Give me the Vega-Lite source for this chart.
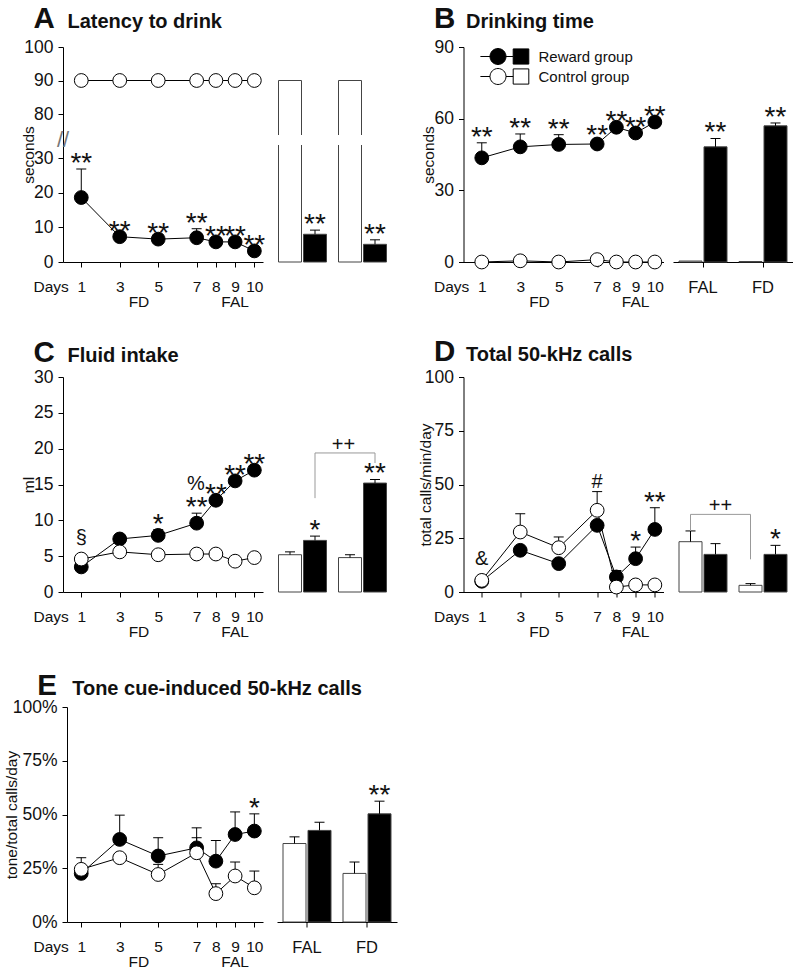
{
  "$schema": "https://vega.github.io/schema/vega-lite/v6.json",
  "background": "white",
  "padding": {"left": 4, "top": 3, "right": 0, "bottom": 0},
  "columns": 5,
  "bounds": "flush",
  "spacing": {"row": 115, "column": 9.5},
  "resolve": {
    "scale": {"x": "independent", "y": "independent", "xOffset": "independent", "fill": "independent"},
    "axis": {"x": "independent", "y": "independent"},
    "legend": {"fill": "independent"}
  },
  "config": {
    "font": "Liberation Sans",
    "view": {"stroke": null},
    "axis": {
      "grid": false, "domainColor": "black", "tickColor": "black", "labelColor": "#111", "titleColor": "#111",
      "labelFontSize": 17.5, "titleFontSize": 15.5, "titleFontWeight": "normal", "tickSize": 5,
      "labelFlush": false, "labelOverlap": false
    },
    "axisY": {"labelPadding": 5},
    "text": {"color": "#111"}
  },
  "concat": [
    {
      "width": 200, "height": 215,
      "data": {"values": [
        {"day": 1, "phase": "FD", "group": "Reward group", "mean": 18.6, "hi": 26.8, "sig": "**"},
        {"day": 3, "phase": "FD", "group": "Reward group", "mean": 7.3, "hi": 7.3, "sig": "**"},
        {"day": 5, "phase": "FD", "group": "Reward group", "mean": 6.6, "hi": 6.6, "sig": "**"},
        {"day": 7, "phase": "FD", "group": "Reward group", "mean": 7.0, "hi": 9.6, "sig": "**"},
        {"day": 8, "phase": "FAL", "group": "Reward group", "mean": 5.8, "hi": 5.8, "sig": "**"},
        {"day": 9, "phase": "FAL", "group": "Reward group", "mean": 5.8, "hi": 5.8, "sig": "**"},
        {"day": 10, "phase": "FAL", "group": "Reward group", "mean": 3.2, "hi": 3.2, "sig": "**"},
        {"day": 1, "phase": "FD", "group": "Control group", "mean": 90, "hi": 90},
        {"day": 3, "phase": "FD", "group": "Control group", "mean": 90, "hi": 90},
        {"day": 5, "phase": "FD", "group": "Control group", "mean": 90, "hi": 90},
        {"day": 7, "phase": "FD", "group": "Control group", "mean": 90, "hi": 90},
        {"day": 8, "phase": "FAL", "group": "Control group", "mean": 90, "hi": 90},
        {"day": 9, "phase": "FAL", "group": "Control group", "mean": 90, "hi": 90},
        {"day": 10, "phase": "FAL", "group": "Control group", "mean": 90, "hi": 90}
      ]},
      "resolve": {"axis": {"x": "independent", "y": "independent"}},
      "layer": [
        {
          "encoding": {
            "x": {"field": "day", "type": "quantitative", "scale": {"domain": [0.05, 10.45], "nice": false, "zero": false},
              "axis": {"values": [1, 3, 5, 7, 8, 9, 10], "title": "Days", "titleX": -30, "titleY": 29, "titleAlign": "left", "titleBaseline": "alphabetic", "labelFontSize": 15.5, "labelPadding": 12}},
            "y": {"field": "mean", "type": "quantitative", "scale": {"domain": [0, 30, 80, 100], "range": [215, 111, 67, 0], "nice": false, "zero": false},
              "axis": {"values": [0, 10, 20, 30, 80, 90, 100], "title": "seconds", "titleX": -30, "titleY": 107.5, "titleAlign": "center", "titleBaseline": "alphabetic"}}
          },
          "layer": [
            {"transform": [{"filter": "datum.hi > datum.mean"}], "mark": {"type": "rule", "color": "black", "strokeWidth": 1}, "encoding": {"y2": {"field": "hi"}}},
            {"transform": [{"filter": "datum.hi > datum.mean"}], "mark": {"type": "tick", "orient": "horizontal", "size": 10, "thickness": 1, "color": "black", "opacity": 1}, "encoding": {"y": {"field": "hi", "type": "quantitative"}}},
            {"mark": {"type": "line", "color": "black", "strokeWidth": 1}, "encoding": {"detail": {"field": "group"}}},
            {"mark": {"type": "point", "filled": true, "size": 190, "stroke": "black", "strokeWidth": 1, "opacity": 1},
              "encoding": {"fill": {"field": "group", "type": "nominal", "scale": {"domain": ["Reward group", "Control group"], "range": ["black", "white"]}, "legend": null}}},
            {"transform": [{"filter": "datum.sig"}], "mark": {"type": "text", "fontSize": 28, "baseline": "alphabetic", "dy": 3}, "encoding": {"y": {"field": "hi", "type": "quantitative"}, "text": {"field": "sig"}}}
          ]
        },
        {
          "mark": {"type": "text", "fontSize": 15.5, "baseline": "alphabetic", "dy": 45},
          "encoding": {
            "x": {"aggregate": "mean", "field": "day", "type": "quantitative",
              "axis": {"orient": "top", "domain": false, "ticks": false, "labels": false, "title": "Latency to drink", "titleX": 4, "titleY": -20, "titleAlign": "left", "titleBaseline": "alphabetic", "titleFontSize": 20, "titleFontWeight": "bold"}},
            "y": {"datum": 0, "type": "quantitative",
              "axis": {"orient": "left", "domain": false, "ticks": false, "labels": false, "title": "A", "titleX": -30, "titleY": -20, "titleAngle": 0, "titleAlign": "left", "titleBaseline": "alphabetic", "titleFontSize": 29.5, "titleFontWeight": "bold"}},
            "text": {"field": "phase", "type": "nominal"}
          }
        },
        {
          "data": {"values": [{"brk": "//"}]},
          "mark": {"type": "text", "fontSize": 22, "color": "#777"},
          "encoding": {"x": {"datum": 0.05, "type": "quantitative", "axis": null}, "y": {"datum": 50, "type": "quantitative", "axis": null}, "text": {"field": "brk"}}
        }
      ]
    },
    {
      "width": 120, "height": 215,
      "data": {"values": [
        {"grp": "FAL", "group": "Control group", "mean": 90, "hi": 90},
        {"grp": "FAL", "group": "Reward group", "mean": 8.0, "hi": 9.2, "sig": "**"},
        {"grp": "FD", "group": "Control group", "mean": 90, "hi": 90},
        {"grp": "FD", "group": "Reward group", "mean": 5.1, "hi": 6.4, "sig": "**"}
      ]},
      "layer": [
        {
          "encoding": {
            "x": {"field": "grp", "type": "nominal", "scale": {"domain": ["FAL", "FD"], "paddingInner": 0, "paddingOuter": 0},
              "axis": {"title": null, "labelFontSize": 16.5, "labelPadding": 12, "labelAngle": 0, "bandPosition": 0.5}},
            "y": {"field": "mean", "type": "quantitative", "scale": {"domain": [0, 30, 80, 100], "range": [215, 111, 67, 0], "nice": false, "zero": false}, "axis": null},
            "xOffset": {"field": "group", "type": "nominal", "scale": {"domain": ["Control group", "Reward group"], "paddingInner": 0.08, "paddingOuter": 0.24}}
          },
          "layer": [
            {"mark": {"type": "bar", "stroke": "#444", "strokeWidth": 1},
              "encoding": {"fill": {"field": "group", "type": "nominal", "scale": {"domain": ["Reward group", "Control group"], "range": ["black", "white"]}, "legend": null}}},
            {"transform": [{"filter": "datum.hi > datum.mean"}], "mark": {"type": "rule", "color": "black"}, "encoding": {"y2": {"field": "hi"}}},
            {"transform": [{"filter": "datum.hi > datum.mean"}], "mark": {"type": "tick", "orient": "horizontal", "size": 10, "thickness": 1, "color": "black", "opacity": 1}, "encoding": {"y": {"field": "hi", "type": "quantitative", "axis": null}}},
            {"transform": [{"filter": "datum.sig"}], "mark": {"type": "text", "fontSize": 28, "baseline": "alphabetic", "dy": 3}, "encoding": {"y": {"field": "hi", "type": "quantitative", "axis": null}, "text": {"field": "sig"}}}
          ]
        },
        {
          "data": {"values": [{"grp": "FAL", "group": "Control group"}, {"grp": "FD", "group": "Control group"}]},
          "mark": {"type": "bar", "fill": "white", "stroke": "white", "strokeWidth": 2},
          "encoding": {"x": {"field": "grp", "type": "nominal", "axis": null}, "xOffset": {"field": "group", "type": "nominal"}, "y": {"datum": 46, "type": "quantitative", "axis": null}, "y2": {"datum": 55}}
        }
      ]
    },
    {"width": 52, "height": 215, "data": {"values": [{}]}, "mark": {"type": "text", "text": ""}},
    {
      "width": 200, "height": 215,
      "data": {"values": [
        {"day": 1, "phase": "FD", "group": "Reward group", "mean": 43.6, "hi": 49.9, "sig": "**"},
        {"day": 3, "phase": "FD", "group": "Reward group", "mean": 48.2, "hi": 53.6, "sig": "**"},
        {"day": 5, "phase": "FD", "group": "Reward group", "mean": 49.2, "hi": 53.3, "sig": "**"},
        {"day": 7, "phase": "FD", "group": "Reward group", "mean": 49.4, "hi": 50.5, "sig": "**"},
        {"day": 8, "phase": "FAL", "group": "Reward group", "mean": 56.4, "hi": 56.4, "sig": "**"},
        {"day": 9, "phase": "FAL", "group": "Reward group", "mean": 54.0, "hi": 54.0, "sig": "**"},
        {"day": 10, "phase": "FAL", "group": "Reward group", "mean": 58.6, "hi": 58.6, "sig": "**"},
        {"day": 1, "phase": "FD", "group": "Control group", "mean": 0, "hi": 0},
        {"day": 3, "phase": "FD", "group": "Control group", "mean": 0.5, "hi": 0.5},
        {"day": 5, "phase": "FD", "group": "Control group", "mean": 0, "hi": 0},
        {"day": 7, "phase": "FD", "group": "Control group", "mean": 1.0, "hi": 1.0},
        {"day": 8, "phase": "FAL", "group": "Control group", "mean": 0, "hi": 0},
        {"day": 9, "phase": "FAL", "group": "Control group", "mean": 0, "hi": 0},
        {"day": 10, "phase": "FAL", "group": "Control group", "mean": 0, "hi": 0}
      ]},
      "resolve": {"axis": {"x": "independent", "y": "independent"}},
      "layer": [
        {
          "encoding": {
            "x": {"field": "day", "type": "quantitative", "scale": {"domain": [0.05, 10.45], "nice": false, "zero": false},
              "axis": {"values": [1, 3, 5, 7, 8, 9, 10], "title": "Days", "titleX": -30, "titleY": 29, "titleAlign": "left", "titleBaseline": "alphabetic", "labelFontSize": 15.5, "labelPadding": 12}},
            "y": {"field": "mean", "type": "quantitative", "scale": {"domain": [0, 90], "nice": false, "zero": false},
              "axis": {"values": [0, 30, 60, 90], "title": "seconds", "titleX": -30, "titleY": 107.5, "titleAlign": "center", "titleBaseline": "alphabetic"}}
          },
          "layer": [
            {"transform": [{"filter": "datum.hi > datum.mean"}], "mark": {"type": "rule", "color": "black", "strokeWidth": 1}, "encoding": {"y2": {"field": "hi"}}},
            {"transform": [{"filter": "datum.hi > datum.mean"}], "mark": {"type": "tick", "orient": "horizontal", "size": 10, "thickness": 1, "color": "black", "opacity": 1}, "encoding": {"y": {"field": "hi", "type": "quantitative"}}},
            {"mark": {"type": "line", "color": "black", "strokeWidth": 1}, "encoding": {"detail": {"field": "group"}}},
            {"mark": {"type": "point", "filled": true, "size": 190, "stroke": "black", "strokeWidth": 1, "opacity": 1},
              "encoding": {"fill": {"field": "group", "type": "nominal", "scale": {"domain": ["Reward group", "Control group"], "range": ["black", "white"]},
                "legend": {"orient": "none", "legendX": 26, "legendY": 1, "title": null,
                  "symbolType": "M-2.2,0L-1,0M-1,0A1,1,0,1,1,1,0A1,1,0,1,1,-1,0ZM1,0L1.9,0M1.9,-0.95L3.85,-0.95L3.85,0.95L1.9,0.95Z",
                  "symbolSize": 256, "symbolStrokeColor": "black", "symbolStrokeWidth": 1, "labelFontSize": 15, "labelOffset": 32, "rowPadding": -1, "labelColor": "#111"}}}},
            {"transform": [{"filter": "datum.sig"}], "mark": {"type": "text", "fontSize": 28, "baseline": "alphabetic", "dy": 3}, "encoding": {"y": {"field": "hi", "type": "quantitative"}, "text": {"field": "sig"}}}
          ]
        },
        {
          "mark": {"type": "text", "fontSize": 15.5, "baseline": "alphabetic", "dy": 45},
          "encoding": {
            "x": {"aggregate": "mean", "field": "day", "type": "quantitative",
              "axis": {"orient": "top", "domain": false, "ticks": false, "labels": false, "title": "Drinking time", "titleX": 2, "titleY": -20, "titleAlign": "left", "titleBaseline": "alphabetic", "titleFontSize": 20, "titleFontWeight": "bold"}},
            "y": {"datum": 0, "type": "quantitative",
              "axis": {"orient": "left", "domain": false, "ticks": false, "labels": false, "title": "B", "titleX": -30, "titleY": -20, "titleAngle": 0, "titleAlign": "left", "titleBaseline": "alphabetic", "titleFontSize": 29.5, "titleFontWeight": "bold"}},
            "text": {"field": "phase", "type": "nominal"}
          }
        }
      ]
    },
    {
      "width": 120, "height": 215,
      "data": {"values": [
        {"grp": "FAL", "group": "Control group", "mean": 0.4, "hi": 0.4},
        {"grp": "FAL", "group": "Reward group", "mean": 48.2, "hi": 51.7, "sig": "**"},
        {"grp": "FD", "group": "Control group", "mean": 0.2, "hi": 0.2},
        {"grp": "FD", "group": "Reward group", "mean": 57.0, "hi": 58.2, "sig": "**"}
      ]},
      "encoding": {
        "x": {"field": "grp", "type": "nominal", "scale": {"domain": ["FAL", "FD"], "paddingInner": 0, "paddingOuter": 0},
          "axis": {"title": null, "labelFontSize": 16.5, "labelPadding": 12, "labelAngle": 0, "bandPosition": 0.5}},
        "y": {"field": "mean", "type": "quantitative", "scale": {"domain": [0, 90], "nice": false, "zero": false}, "axis": null},
        "xOffset": {"field": "group", "type": "nominal", "scale": {"domain": ["Control group", "Reward group"], "paddingInner": 0.08, "paddingOuter": 0.24}}
      },
      "layer": [
        {"mark": {"type": "bar", "stroke": "#444", "strokeWidth": 1},
          "encoding": {"fill": {"field": "group", "type": "nominal", "scale": {"domain": ["Reward group", "Control group"], "range": ["black", "white"]}, "legend": null}}},
        {"transform": [{"filter": "datum.hi > datum.mean"}], "mark": {"type": "rule", "color": "black"}, "encoding": {"y2": {"field": "hi"}}},
        {"transform": [{"filter": "datum.hi > datum.mean"}], "mark": {"type": "tick", "orient": "horizontal", "size": 10, "thickness": 1, "color": "black", "opacity": 1}, "encoding": {"y": {"field": "hi", "type": "quantitative", "axis": null}}},
        {"transform": [{"filter": "datum.sig"}], "mark": {"type": "text", "fontSize": 28, "baseline": "alphabetic", "dy": 3}, "encoding": {"y": {"field": "hi", "type": "quantitative", "axis": null}, "text": {"field": "sig"}}}
      ]
    },
    {
      "width": 200, "height": 215,
      "data": {"values": [
        {"day": 1, "phase": "FD", "group": "Reward group", "mean": 3.5, "hi": 3.5},
        {"day": 3, "phase": "FD", "group": "Reward group", "mean": 7.4, "hi": 7.4},
        {"day": 5, "phase": "FD", "group": "Reward group", "mean": 7.9, "hi": 8.7, "sig": "*"},
        {"day": 7, "phase": "FD", "group": "Reward group", "mean": 9.6, "hi": 11.0, "sig": "**"},
        {"day": 8, "phase": "FAL", "group": "Reward group", "mean": 12.8, "hi": 12.8, "sig": "**", "pre": "%"},
        {"day": 9, "phase": "FAL", "group": "Reward group", "mean": 15.5, "hi": 15.5, "sig": "**"},
        {"day": 10, "phase": "FAL", "group": "Reward group", "mean": 17.0, "hi": 17.0, "sig": "**"},
        {"day": 1, "phase": "FD", "group": "Control group", "mean": 4.6, "hi": 4.6, "note": "§"},
        {"day": 3, "phase": "FD", "group": "Control group", "mean": 5.6, "hi": 5.6},
        {"day": 5, "phase": "FD", "group": "Control group", "mean": 5.2, "hi": 5.2},
        {"day": 7, "phase": "FD", "group": "Control group", "mean": 5.3, "hi": 5.3},
        {"day": 8, "phase": "FAL", "group": "Control group", "mean": 5.3, "hi": 5.3},
        {"day": 9, "phase": "FAL", "group": "Control group", "mean": 4.3, "hi": 4.3},
        {"day": 10, "phase": "FAL", "group": "Control group", "mean": 4.8, "hi": 4.8}
      ]},
      "resolve": {"axis": {"x": "independent", "y": "independent"}},
      "layer": [
        {
          "encoding": {
            "x": {"field": "day", "type": "quantitative", "scale": {"domain": [0.05, 10.45], "nice": false, "zero": false},
              "axis": {"values": [1, 3, 5, 7, 8, 9, 10], "title": "Days", "titleX": -30, "titleY": 29, "titleAlign": "left", "titleBaseline": "alphabetic", "labelFontSize": 15.5, "labelPadding": 12}},
            "y": {"field": "mean", "type": "quantitative", "scale": {"domain": [0, 30], "nice": false, "zero": false},
              "axis": {"values": [0, 5, 10, 15, 20, 25, 30], "title": "ml", "titleX": -30, "titleY": 107.5, "titleAlign": "center", "titleBaseline": "alphabetic"}}
          },
          "layer": [
            {"transform": [{"filter": "datum.hi > datum.mean"}], "mark": {"type": "rule", "color": "black", "strokeWidth": 1}, "encoding": {"y2": {"field": "hi"}}},
            {"transform": [{"filter": "datum.hi > datum.mean"}], "mark": {"type": "tick", "orient": "horizontal", "size": 10, "thickness": 1, "color": "black", "opacity": 1}, "encoding": {"y": {"field": "hi", "type": "quantitative"}}},
            {"mark": {"type": "line", "color": "black", "strokeWidth": 1}, "encoding": {"detail": {"field": "group"}}},
            {"mark": {"type": "point", "filled": true, "size": 190, "stroke": "black", "strokeWidth": 1, "opacity": 1},
              "encoding": {"fill": {"field": "group", "type": "nominal", "scale": {"domain": ["Reward group", "Control group"], "range": ["black", "white"]}, "legend": null}}},
            {"transform": [{"filter": "datum.sig"}], "mark": {"type": "text", "fontSize": 28, "baseline": "alphabetic", "dy": 3}, "encoding": {"y": {"field": "hi", "type": "quantitative"}, "text": {"field": "sig"}}},
            {"transform": [{"filter": "datum.note"}], "mark": {"type": "text", "fontSize": 20, "baseline": "alphabetic", "dy": {"expr": "datum.hi > datum.mean ? -4 : -15"}}, "encoding": {"y": {"field": "hi", "type": "quantitative"}, "text": {"field": "note"}}},
            {"transform": [{"filter": "datum.pre"}], "mark": {"type": "text", "fontSize": 20, "baseline": "alphabetic", "align": "right", "dx": -11, "dy": -10}, "encoding": {"y": {"field": "hi", "type": "quantitative"}, "text": {"field": "pre"}}}
          ]
        },
        {
          "mark": {"type": "text", "fontSize": 15.5, "baseline": "alphabetic", "dy": 45},
          "encoding": {
            "x": {"aggregate": "mean", "field": "day", "type": "quantitative",
              "axis": {"orient": "top", "domain": false, "ticks": false, "labels": false, "title": "Fluid intake", "titleX": 4, "titleY": -16, "titleAlign": "left", "titleBaseline": "alphabetic", "titleFontSize": 20, "titleFontWeight": "bold"}},
            "y": {"datum": 0, "type": "quantitative",
              "axis": {"orient": "left", "domain": false, "ticks": false, "labels": false, "title": "C", "titleX": -30, "titleY": -16, "titleAngle": 0, "titleAlign": "left", "titleBaseline": "alphabetic", "titleFontSize": 29.5, "titleFontWeight": "bold"}},
            "text": {"field": "phase", "type": "nominal"}
          }
        }
      ]
    },
    {
      "width": 120, "height": 215,
      "data": {"values": [
        {"grp": "FAL", "group": "Control group", "mean": 5.2, "hi": 5.6},
        {"grp": "FAL", "group": "Reward group", "mean": 7.2, "hi": 7.8, "sig": "*"},
        {"grp": "FD", "group": "Control group", "mean": 4.8, "hi": 5.2},
        {"grp": "FD", "group": "Reward group", "mean": 15.2, "hi": 15.7, "sig": "**"}
      ]},
      "layer": [
        {
          "encoding": {
            "x": {"field": "grp", "type": "nominal", "scale": {"domain": ["FAL", "FD"], "paddingInner": 0, "paddingOuter": 0},
              "axis": {"title": null, "labelFontSize": 16.5, "labelPadding": 12, "labelAngle": 0, "bandPosition": 0.5}},
            "y": {"field": "mean", "type": "quantitative", "scale": {"domain": [0, 30], "nice": false, "zero": false}, "axis": null},
            "xOffset": {"field": "group", "type": "nominal", "scale": {"domain": ["Control group", "Reward group"], "paddingInner": 0.08, "paddingOuter": 0.24}}
          },
          "layer": [
            {"mark": {"type": "bar", "stroke": "#444", "strokeWidth": 1},
              "encoding": {"fill": {"field": "group", "type": "nominal", "scale": {"domain": ["Reward group", "Control group"], "range": ["black", "white"]}, "legend": null}}},
            {"transform": [{"filter": "datum.hi > datum.mean"}], "mark": {"type": "rule", "color": "black"}, "encoding": {"y2": {"field": "hi"}}},
            {"transform": [{"filter": "datum.hi > datum.mean"}], "mark": {"type": "tick", "orient": "horizontal", "size": 10, "thickness": 1, "color": "black", "opacity": 1}, "encoding": {"y": {"field": "hi", "type": "quantitative", "axis": null}}},
            {"transform": [{"filter": "datum.sig"}], "mark": {"type": "text", "fontSize": 28, "baseline": "alphabetic", "dy": 3}, "encoding": {"y": {"field": "hi", "type": "quantitative", "axis": null}, "text": {"field": "sig"}}}
          ]
        },
        {
          "data": {"values": [{"left": 13.1, "right": 18.0, "top": 19.4, "label": "++"}]},
          "layer": [
            {"mark": {"type": "rule", "color": "#999", "xOffset": 12.5}, "encoding": {"x": {"datum": "FAL", "type": "nominal", "axis": null}, "y": {"field": "left", "type": "quantitative", "axis": null}, "y2": {"field": "top"}}},
            {"mark": {"type": "rule", "color": "#999", "xOffset": 12.5}, "encoding": {"x": {"datum": "FD", "type": "nominal", "axis": null}, "y": {"field": "right", "type": "quantitative", "axis": null}, "y2": {"field": "top"}}},
            {"mark": {"type": "rule", "color": "#999", "xOffset": 12.5, "x2Offset": 12.5}, "encoding": {"x": {"datum": "FAL", "type": "nominal", "axis": null}, "x2": {"datum": "FD"}, "y": {"field": "top", "type": "quantitative", "axis": null}}},
            {"mark": {"type": "text", "fontSize": 20, "baseline": "alphabetic", "dy": -2, "xOffset": -19}, "encoding": {"x": {"datum": "FD", "type": "nominal", "axis": null}, "y": {"field": "top", "type": "quantitative", "axis": null}, "text": {"field": "label"}}}
          ]
        }
      ]
    },
    {"width": 52, "height": 215, "data": {"values": [{}]}, "mark": {"type": "text", "text": ""}},
    {
      "width": 200, "height": 215,
      "data": {"values": [
        {"day": 1, "phase": "FD", "group": "Reward group", "mean": 5.0, "hi": 5.0},
        {"day": 3, "phase": "FD", "group": "Reward group", "mean": 19.4, "hi": 19.4},
        {"day": 5, "phase": "FD", "group": "Reward group", "mean": 13.2, "hi": 13.2},
        {"day": 7, "phase": "FD", "group": "Reward group", "mean": 31.0, "hi": 31.0},
        {"day": 8, "phase": "FAL", "group": "Reward group", "mean": 7.0, "hi": 10.0},
        {"day": 9, "phase": "FAL", "group": "Reward group", "mean": 15.5, "hi": 20.9, "sig": "*"},
        {"day": 10, "phase": "FAL", "group": "Reward group", "mean": 29.1, "hi": 39.2, "sig": "**"},
        {"day": 1, "phase": "FD", "group": "Control group", "mean": 5.4, "hi": 5.4, "note": "&"},
        {"day": 3, "phase": "FD", "group": "Control group", "mean": 27.9, "hi": 36.4},
        {"day": 5, "phase": "FD", "group": "Control group", "mean": 20.6, "hi": 25.6},
        {"day": 7, "phase": "FD", "group": "Control group", "mean": 38.0, "hi": 46.7, "note": "#"},
        {"day": 8, "phase": "FAL", "group": "Control group", "mean": 2.3, "hi": 2.3},
        {"day": 9, "phase": "FAL", "group": "Control group", "mean": 3.3, "hi": 3.3},
        {"day": 10, "phase": "FAL", "group": "Control group", "mean": 3.3, "hi": 3.3}
      ]},
      "resolve": {"axis": {"x": "independent", "y": "independent"}},
      "layer": [
        {
          "encoding": {
            "x": {"field": "day", "type": "quantitative", "scale": {"domain": [0.05, 10.45], "nice": false, "zero": false},
              "axis": {"values": [1, 3, 5, 7, 8, 9, 10], "title": "Days", "titleX": -30, "titleY": 29, "titleAlign": "left", "titleBaseline": "alphabetic", "labelFontSize": 15.5, "labelPadding": 12}},
            "y": {"field": "mean", "type": "quantitative", "scale": {"domain": [0, 100], "nice": false, "zero": false},
              "axis": {"values": [0, 25, 50, 75, 100], "title": "total calls/min/day", "titleX": -33, "titleY": 107.5, "titleAlign": "center", "titleBaseline": "alphabetic"}}
          },
          "layer": [
            {"transform": [{"filter": "datum.hi > datum.mean"}], "mark": {"type": "rule", "color": "black", "strokeWidth": 1}, "encoding": {"y2": {"field": "hi"}}},
            {"transform": [{"filter": "datum.hi > datum.mean"}], "mark": {"type": "tick", "orient": "horizontal", "size": 10, "thickness": 1, "color": "black", "opacity": 1}, "encoding": {"y": {"field": "hi", "type": "quantitative"}}},
            {"mark": {"type": "line", "color": "black", "strokeWidth": 1}, "encoding": {"detail": {"field": "group"}}},
            {"mark": {"type": "point", "filled": true, "size": 190, "stroke": "black", "strokeWidth": 1, "opacity": 1},
              "encoding": {"fill": {"field": "group", "type": "nominal", "scale": {"domain": ["Reward group", "Control group"], "range": ["black", "white"]}, "legend": null}}},
            {"transform": [{"filter": "datum.sig"}], "mark": {"type": "text", "fontSize": 28, "baseline": "alphabetic", "dy": 3}, "encoding": {"y": {"field": "hi", "type": "quantitative"}, "text": {"field": "sig"}}},
            {"transform": [{"filter": "datum.note"}], "mark": {"type": "text", "fontSize": 20, "baseline": "alphabetic", "dy": {"expr": "datum.hi > datum.mean ? -4 : -15"}}, "encoding": {"y": {"field": "hi", "type": "quantitative"}, "text": {"field": "note"}}}
          ]
        },
        {
          "mark": {"type": "text", "fontSize": 15.5, "baseline": "alphabetic", "dy": 45},
          "encoding": {
            "x": {"aggregate": "mean", "field": "day", "type": "quantitative",
              "axis": {"orient": "top", "domain": false, "ticks": false, "labels": false, "title": "Total 50-kHz calls", "titleX": 2, "titleY": -17, "titleAlign": "left", "titleBaseline": "alphabetic", "titleFontSize": 20, "titleFontWeight": "bold"}},
            "y": {"datum": 0, "type": "quantitative",
              "axis": {"orient": "left", "domain": false, "ticks": false, "labels": false, "title": "D", "titleX": -30, "titleY": -17, "titleAngle": 0, "titleAlign": "left", "titleBaseline": "alphabetic", "titleFontSize": 29.5, "titleFontWeight": "bold"}},
            "text": {"field": "phase", "type": "nominal"}
          }
        }
      ]
    },
    {
      "width": 120, "height": 215,
      "data": {"values": [
        {"grp": "FAL", "group": "Control group", "mean": 23.4, "hi": 28.4},
        {"grp": "FAL", "group": "Reward group", "mean": 17.5, "hi": 22.5},
        {"grp": "FD", "group": "Control group", "mean": 3.1, "hi": 3.9},
        {"grp": "FD", "group": "Reward group", "mean": 17.5, "hi": 21.7, "sig": "*"}
      ]},
      "layer": [
        {
          "encoding": {
            "x": {"field": "grp", "type": "nominal", "scale": {"domain": ["FAL", "FD"], "paddingInner": 0, "paddingOuter": 0},
              "axis": {"title": null, "labelFontSize": 16.5, "labelPadding": 12, "labelAngle": 0, "bandPosition": 0.5}},
            "y": {"field": "mean", "type": "quantitative", "scale": {"domain": [0, 100], "nice": false, "zero": false}, "axis": null},
            "xOffset": {"field": "group", "type": "nominal", "scale": {"domain": ["Control group", "Reward group"], "paddingInner": 0.08, "paddingOuter": 0.24}}
          },
          "layer": [
            {"mark": {"type": "bar", "stroke": "#444", "strokeWidth": 1},
              "encoding": {"fill": {"field": "group", "type": "nominal", "scale": {"domain": ["Reward group", "Control group"], "range": ["black", "white"]}, "legend": null}}},
            {"transform": [{"filter": "datum.hi > datum.mean"}], "mark": {"type": "rule", "color": "black"}, "encoding": {"y2": {"field": "hi"}}},
            {"transform": [{"filter": "datum.hi > datum.mean"}], "mark": {"type": "tick", "orient": "horizontal", "size": 10, "thickness": 1, "color": "black", "opacity": 1}, "encoding": {"y": {"field": "hi", "type": "quantitative", "axis": null}}},
            {"transform": [{"filter": "datum.sig"}], "mark": {"type": "text", "fontSize": 28, "baseline": "alphabetic", "dy": 3}, "encoding": {"y": {"field": "hi", "type": "quantitative", "axis": null}, "text": {"field": "sig"}}}
          ]
        },
        {
          "data": {"values": [{"left": 28.4, "right": 15.2, "top": 36.1, "label": "++"}]},
          "layer": [
            {"mark": {"type": "rule", "color": "#999", "xOffset": -12.5}, "encoding": {"x": {"datum": "FAL", "type": "nominal", "axis": null}, "y": {"field": "left", "type": "quantitative", "axis": null}, "y2": {"field": "top"}}},
            {"mark": {"type": "rule", "color": "#999", "xOffset": -12.5}, "encoding": {"x": {"datum": "FD", "type": "nominal", "axis": null}, "y": {"field": "right", "type": "quantitative", "axis": null}, "y2": {"field": "top"}}},
            {"mark": {"type": "rule", "color": "#999", "xOffset": -12.5, "x2Offset": -12.5}, "encoding": {"x": {"datum": "FAL", "type": "nominal", "axis": null}, "x2": {"datum": "FD"}, "y": {"field": "top", "type": "quantitative", "axis": null}}},
            {"mark": {"type": "text", "fontSize": 20, "baseline": "alphabetic", "dy": -2, "xOffset": -42.5}, "encoding": {"x": {"datum": "FD", "type": "nominal", "axis": null}, "y": {"field": "top", "type": "quantitative", "axis": null}, "text": {"field": "label"}}}
          ]
        }
      ]
    },
    {
      "width": 200, "height": 215,
      "data": {"values": [
        {"day": 1, "phase": "FD", "group": "Reward group", "mean": 22.6, "hi": 29.9},
        {"day": 3, "phase": "FD", "group": "Reward group", "mean": 38.4, "hi": 49.7},
        {"day": 5, "phase": "FD", "group": "Reward group", "mean": 30.7, "hi": 39.2},
        {"day": 7, "phase": "FD", "group": "Reward group", "mean": 34.5, "hi": 43.8},
        {"day": 8, "phase": "FAL", "group": "Reward group", "mean": 28.3, "hi": 37.9},
        {"day": 9, "phase": "FAL", "group": "Reward group", "mean": 40.7, "hi": 51.2},
        {"day": 10, "phase": "FAL", "group": "Reward group", "mean": 42.3, "hi": 50.3, "sig": "*"},
        {"day": 1, "phase": "FD", "group": "Control group", "mean": 24.5, "hi": 24.5},
        {"day": 3, "phase": "FD", "group": "Control group", "mean": 29.9, "hi": 29.9},
        {"day": 5, "phase": "FD", "group": "Control group", "mean": 22.1, "hi": 26.8},
        {"day": 7, "phase": "FD", "group": "Control group", "mean": 32.2, "hi": 39.2},
        {"day": 8, "phase": "FAL", "group": "Control group", "mean": 13.2, "hi": 17.8},
        {"day": 9, "phase": "FAL", "group": "Control group", "mean": 21.4, "hi": 27.9},
        {"day": 10, "phase": "FAL", "group": "Control group", "mean": 15.9, "hi": 23.7}
      ]},
      "resolve": {"axis": {"x": "independent", "y": "independent"}},
      "layer": [
        {
          "encoding": {
            "x": {"field": "day", "type": "quantitative", "scale": {"domain": [0.26, 10.45], "range": [4, 200], "nice": false, "zero": false},
              "axis": {"values": [1, 3, 5, 7, 8, 9, 10], "title": "Days", "titleX": -30, "titleY": 29, "titleAlign": "left", "titleBaseline": "alphabetic", "labelFontSize": 15.5, "labelPadding": 12}},
            "y": {"field": "mean", "type": "quantitative", "scale": {"domain": [0, 100], "nice": false, "zero": false},
              "axis": {"values": [0, 25, 50, 75, 100], "labelExpr": "datum.value + '%'", "offset": -4, "title": "tone/total calls/day", "titleX": -51, "titleY": 107.5, "titleAlign": "center", "titleBaseline": "alphabetic"}}
          },
          "layer": [
            {"transform": [{"filter": "datum.hi > datum.mean"}], "mark": {"type": "rule", "color": "black", "strokeWidth": 1}, "encoding": {"y2": {"field": "hi"}}},
            {"transform": [{"filter": "datum.hi > datum.mean"}], "mark": {"type": "tick", "orient": "horizontal", "size": 10, "thickness": 1, "color": "black", "opacity": 1}, "encoding": {"y": {"field": "hi", "type": "quantitative"}}},
            {"mark": {"type": "line", "color": "black", "strokeWidth": 1}, "encoding": {"detail": {"field": "group"}}},
            {"mark": {"type": "point", "filled": true, "size": 190, "stroke": "black", "strokeWidth": 1, "opacity": 1},
              "encoding": {"fill": {"field": "group", "type": "nominal", "scale": {"domain": ["Reward group", "Control group"], "range": ["black", "white"]}, "legend": null}}},
            {"transform": [{"filter": "datum.sig"}], "mark": {"type": "text", "fontSize": 28, "baseline": "alphabetic", "dy": 3}, "encoding": {"y": {"field": "hi", "type": "quantitative"}, "text": {"field": "sig"}}}
          ]
        },
        {
          "mark": {"type": "text", "fontSize": 15.5, "baseline": "alphabetic", "dy": 45},
          "encoding": {
            "x": {"aggregate": "mean", "field": "day", "type": "quantitative",
              "axis": {"orient": "top", "domain": false, "ticks": false, "labels": false, "title": "Tone cue-induced 50-kHz calls", "titleX": 8.7, "titleY": -13, "titleAlign": "left", "titleBaseline": "alphabetic", "titleFontSize": 20, "titleFontWeight": "bold"}},
            "y": {"datum": 0, "type": "quantitative",
              "axis": {"orient": "left", "domain": false, "ticks": false, "labels": false, "title": "E", "titleX": -26.3, "titleY": -13, "titleAngle": 0, "titleAlign": "left", "titleBaseline": "alphabetic", "titleFontSize": 29.5, "titleFontWeight": "bold"}},
            "text": {"field": "phase", "type": "nominal"}
          }
        }
      ]
    },
    {
      "width": 120, "height": 215,
      "data": {"values": [
        {"grp": "FAL", "group": "Control group", "mean": 36.5, "hi": 39.6},
        {"grp": "FAL", "group": "Reward group", "mean": 42.6, "hi": 46.4},
        {"grp": "FD", "group": "Control group", "mean": 22.6, "hi": 27.9},
        {"grp": "FD", "group": "Reward group", "mean": 50.3, "hi": 56.2, "sig": "**"}
      ]},
      "encoding": {
        "x": {"field": "grp", "type": "nominal", "scale": {"domain": ["FAL", "FD"], "range": [4.5, 124.5], "paddingInner": 0, "paddingOuter": 0},
          "axis": {"title": null, "labelFontSize": 16.5, "labelPadding": 12, "labelAngle": 0, "bandPosition": 0.5}},
        "y": {"field": "mean", "type": "quantitative", "scale": {"domain": [0, 100], "nice": false, "zero": false}, "axis": null},
        "xOffset": {"field": "group", "type": "nominal", "scale": {"domain": ["Control group", "Reward group"], "paddingInner": 0.08, "paddingOuter": 0.24}}
      },
      "layer": [
        {"mark": {"type": "bar", "stroke": "#444", "strokeWidth": 1},
          "encoding": {"fill": {"field": "group", "type": "nominal", "scale": {"domain": ["Reward group", "Control group"], "range": ["black", "white"]}, "legend": null}}},
        {"transform": [{"filter": "datum.hi > datum.mean"}], "mark": {"type": "rule", "color": "black"}, "encoding": {"y2": {"field": "hi"}}},
        {"transform": [{"filter": "datum.hi > datum.mean"}], "mark": {"type": "tick", "orient": "horizontal", "size": 10, "thickness": 1, "color": "black", "opacity": 1}, "encoding": {"y": {"field": "hi", "type": "quantitative", "axis": null}}},
        {"transform": [{"filter": "datum.sig"}], "mark": {"type": "text", "fontSize": 28, "baseline": "alphabetic", "dy": 3}, "encoding": {"y": {"field": "hi", "type": "quantitative", "axis": null}, "text": {"field": "sig"}}}
      ]
    }
  ]
}
